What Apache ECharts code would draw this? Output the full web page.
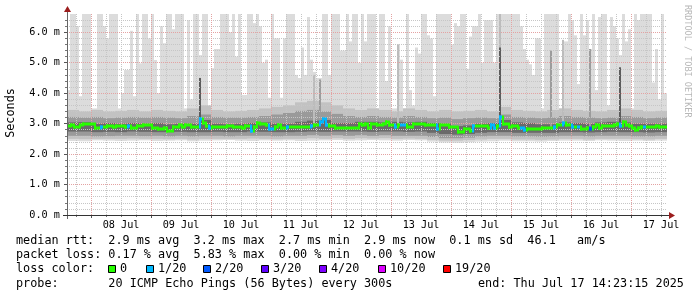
<!DOCTYPE html>
<html><head><meta charset="utf-8">
<script src="https://cdn.jsdelivr.net/npm/echarts@6/dist/echarts.min.js"></script>
<style>html,body{margin:0;padding:0;background:#fff}#c{width:697px;height:297px}</style>
</head><body><div id="c"></div>
<script>
// ---------- DATA ----------
const spanHours = 240;                 // 07 Jul 14:23:15 -> 17 Jul 14:23:15
const firstMidnight = 9.6125;          // hours from start to 08 Jul 00:00
const dayLabels = ['08 Jul','09 Jul','10 Jul','11 Jul','12 Jul','13 Jul','14 Jul','15 Jul','16 Jul','17 Jul'];
const yTickValues = [0,1,2,3,4,5,6];
const yMax = 6.6;

// max rtt of the 20 pings (ms), 200 steps
const maxRtt = [
4.1,6.6,6.6,6.2,3.9,6.6,6.6,6.6,3.5,3.5, 6.6,6.6,6.2,5.8,6.6,6.6,6.6,3.5,4.0,4.76,
4.76,6.05,3.9,6.6,4.98,6.6,6.6,5.8,6.6,5.09, 4.0,6.2,5.64,6.6,6.6,6.1,6.6,6.6,6.6,3.5,
6.4,3.8,6.6,6.6,5.25,6.6,6.6,3.5,4.82,5.45, 5.45,6.6,6.6,6.6,6.0,6.6,5.2,6.6,3.94,3.94,
6.6,6.6,6.3,6.6,6.2,5.0,5.1,3.85,6.6,5.8, 5.8,3.85,5.8,6.6,6.6,6.6,4.6,4.5,5.5,4.6,
6.5,5.1,4.7,4.5,4.5,6.6,6.6,4.6,6.6,6.6, 6.6,5.4,5.4,6.6,5.7,6.6,6.6,5.0,6.6,5.7,
6.6,6.6,6.6,3.5,6.6,6.6,4.4,6.2,3.5,3.5, 5.6,5.1,3.5,6.6,4.1,3.6,5.5,5.3,6.6,6.6,
5.9,5.8,3.9,6.6,6.6,6.6,6.6,6.6,5.6,6.3, 6.2,6.6,6.6,4.8,5.86,6.2,6.2,6.6,5.0,6.4,
6.4,6.4,5.0,6.6,6.6,6.6,6.6,6.6,6.6,6.6, 6.6,6.2,5.45,5.1,4.95,4.6,5.8,5.8,3.5,6.6,
6.6,6.6,6.6,6.6,3.5,5.7,5.7,6.6,6.4,5.9, 4.3,6.6,5.9,6.4,5.45,6.6,4.1,6.5,6.6,6.6,
3.6,6.5,6.2,5.8,5.25,6.6,5.7,6.1,3.5,6.6, 6.4,6.6,6.6,6.6,6.6,4.35,5.45,3.8,6.6,4.0
];

// median rtt (ms), 200 steps
const medianRtt = [
2.92,2.95,2.9,2.9,2.97,2.99,2.99,2.99,2.99,2.85, 2.85,2.9,2.88,2.92,2.92,2.88,2.92,2.92,2.92,2.88,
2.92,2.85,2.85,2.92,2.92,2.97,2.97,2.97,2.87,2.87, 2.82,2.82,2.87,2.77,2.77,2.88,2.88,2.97,2.88,2.94,
2.94,2.88,2.88,2.88,3.14,3.03,2.92,2.86,2.88,2.88, 2.88,2.88,2.88,2.92,2.92,2.88,2.88,2.88,2.85,2.92,
2.92,2.77,2.9,3.03,2.99,2.99,2.94,2.82,2.82,2.9, 2.97,2.86,2.86,2.88,2.9,2.9,2.9,2.88,2.88,2.88,
2.88,2.92,2.95,2.97,3.05,3.16,2.94,2.92,2.92,2.86, 2.86,2.86,2.86,2.86,2.86,2.86,2.86,3.0,2.94,3.0,
2.86,2.99,2.99,2.94,2.94,3.0,3.05,2.94,2.94,2.88, 2.94,2.97,2.97,2.9,2.9,2.99,2.99,2.99,2.99,2.94,
2.94,2.94,2.94,2.84,2.94,2.94,2.94,2.9,2.9,2.9, 2.74,2.74,2.84,2.84,2.77,2.92,2.92,2.92,2.92,2.92,
2.86,2.97,2.86,2.92,3.23,2.99,2.99,2.9,2.92,2.92, 2.86,2.86,2.8,2.84,2.84,2.84,2.84,2.84,2.86,2.86,
2.86,2.86,2.9,2.97,2.97,3.03,2.94,2.94,2.9,2.9, 2.88,2.84,2.84,2.86,2.82,2.9,2.97,2.86,2.92,2.92,
2.92,2.92,2.94,2.99,2.92,3.05,2.97,2.92,2.86,2.79, 2.86,2.9,2.9,2.9,2.9,2.9,2.92,2.9,2.9,2.9
];

// lost pings out of 20, 200 steps
const lossCount = [
0,0,0,0,0,0,0,0,0,0, 0,1,0,0,0,0,0,0,0,0,
1,0,0,0,0,0,0,0,0,0, 0,0,0,0,0,0,0,0,0,0,
0,0,0,0,1,0,0,1,0,0, 0,0,0,0,0,0,0,0,0,0,
0,1,0,0,0,0,0,1,1,0, 0,0,0,1,0,0,0,0,0,0,
0,1,0,0,1,1,1,0,0,0, 0,0,0,0,0,0,0,0,0,0,
0,0,0,0,0,0,0,0,0,1, 0,1,1,0,0,0,0,0,0,0,
0,0,0,1,0,0,0,0,0,0, 0,0,0,0,0,1,0,0,0,0,
0,1,1,0,1,0,0,0,0,0, 0,1,1,0,0,0,0,0,0,0,
0,0,1,0,0,1,0,0,1,0, 1,0,0,0,2,0,0,0,0,0,
0,0,0,0,1,0,0,0,0,0, 0,0,1,0,0,0,0,0,0,0
];

// smoke percentile edges (ms), 50 steps
const minRtt = [2.43,2.42,2.45,2.44,2.43,2.44,2.45,2.43,2.44,2.45,2.42,2.44,2.45,2.46,2.44,2.43,2.45,2.44,2.45,2.43,2.44,2.45,2.46,2.44,2.45,2.46,2.45,2.44,2.46,2.45,2.41,2.38,2.37,2.39,2.41,2.42,2.44,2.42,2.42,2.41,2.43,2.44,2.44,2.43,2.45,2.44,2.43,2.44,2.43,2.44];
const lowBandLo = [2.5,2.49,2.5,2.5,2.5,2.51,2.5,2.5,2.49,2.5,2.48,2.5,2.5,2.5,2.5,2.51,2.5,2.49,2.5,2.5,2.52,2.5,2.52,2.5,2.52,2.51,2.52,2.5,2.51,2.5,2.47,2.44,2.44,2.46,2.48,2.5,2.5,2.48,2.48,2.47,2.48,2.5,2.5,2.48,2.5,2.5,2.5,2.49,2.48,2.5];
const lowBandHi = [3.45,3.4,3.45,3.4,3.42,3.45,3.4,3.45,3.42,3.4,3.5,3.6,3.45,3.4,3.42,3.45,3.5,3.55,3.6,3.7,3.75,3.7,3.6,3.5,3.45,3.5,3.45,3.4,3.5,3.45,3.4,3.45,3.4,3.42,3.45,3.4,3.55,3.45,3.42,3.4,3.45,3.5,3.45,3.42,3.4,3.45,3.5,3.45,3.4,3.42];
const midBandLo = [2.6,2.6,2.58,2.59,2.6,2.6,2.59,2.6,2.58,2.6,2.58,2.6,2.6,2.58,2.6,2.6,2.6,2.58,2.6,2.6,2.62,2.6,2.62,2.6,2.62,2.6,2.62,2.6,2.6,2.6,2.56,2.52,2.52,2.54,2.58,2.6,2.6,2.58,2.58,2.57,2.58,2.6,2.6,2.58,2.6,2.6,2.6,2.58,2.58,2.6];
const midBandHi = [3.22,3.2,3.22,3.18,3.2,3.22,3.2,3.22,3.2,3.18,3.25,3.3,3.22,3.2,3.2,3.22,3.25,3.3,3.35,3.42,3.45,3.4,3.32,3.25,3.22,3.25,3.22,3.2,3.25,3.22,3.18,3.2,3.15,3.18,3.2,3.18,3.3,3.22,3.2,3.18,3.2,3.25,3.22,3.2,3.18,3.2,3.25,3.22,3.18,3.2];
const coreBandLo = [2.74,2.74,2.72,2.73,2.72,2.74,2.73,2.72,2.72,2.73,2.72,2.72,2.73,2.72,2.72,2.74,2.73,2.72,2.72,2.73,2.74,2.73,2.74,2.74,2.74,2.73,2.74,2.74,2.73,2.74,2.7,2.66,2.64,2.66,2.7,2.72,2.72,2.7,2.7,2.7,2.7,2.72,2.72,2.71,2.72,2.73,2.72,2.72,2.71,2.72];
const coreBandHi = [3.04,3.05,3.0,3.02,3.0,3.02,3.0,3.02,2.98,3.0,3.0,3.12,3.0,2.98,3.0,3.02,3.04,3.0,3.0,3.06,3.1,3.12,3.02,3.02,3.06,3.06,3.04,3.06,3.04,3.06,3.02,3.0,2.92,2.94,3.0,3.02,3.12,3.04,3.02,2.98,2.98,3.04,3.02,3.0,3.04,3.06,3.04,3.0,3.0,3.0];

// single-step outliers (step index, top value ms, ping rank 1=near median .. 3=far)
const spikeStep = [44, 82, 84, 110, 144, 144, 161, 165, 174, 184];
const spikeTop  = [4.5, 4.6, 4.45, 5.6, 6.6, 5.5, 5.4, 5.75, 5.45, 4.85];
const spikeRank = [1, 3, 2, 3, 3, 1, 2, 3, 2, 1];

const lossLabels = ['0','1/20','2/20','3/20','4/20','10/20','19/20'];
const lossLevels = [0,1,2,3,4,10,19];
const statLine1 = 'median rtt:  2.9 ms avg  3.2 ms max  2.7 ms min  2.9 ms now  0.1 ms sd  46.1   am/s';
const statLine2 = 'packet loss: 0.17 % avg  5.83 % max  0.00 % min  0.00 % now';
const statLine3 = 'loss color:';
const statLine4 = 'probe:       20 ICMP Echo Pings (56 Bytes) every 300s';
const endLine = 'end: Thu Jul 17 14:23:15 2025';
const yAxisTitle = 'Seconds';
const watermark = 'RRDTOOL / TOBI OETIKER';

// ---------- STYLE ----------
const lossColors = ['#26ff00','#00b8ff','#0059ff','#5e00ff','#7e00ff','#dd00ff','#ff0000'];
const spikeColors = {1:'#5c5c5c', 2:'#9c9c9c', 3:'#bcbcbc'};
const MONO = '"DejaVu Sans Mono", monospace';
const LEG_FONT = '11.8px ' + MONO;
function lossColor(n){ let c = lossColors[0]; for (let i=0;i<lossLevels.length;i++){ if (n>=lossLevels[i]) c = lossColors[i]; } return c; }

const stepH = spanHours / medianRtt.length;
const blockH = spanHours / minRtt.length;

function bandData(lo, hi, h){ return lo.map((v,i)=>[i*h,(i+1)*h,v,hi[i]]); }
function bandSeries(data, color, z){
  return {type:'custom', xAxisIndex:0, yAxisIndex:0, z:z, clip:true, silent:true,
    data:data,
    renderItem:function(params, api){
      const p = api.coord([api.value(0), api.value(3)]);
      const q = api.coord([api.value(1), api.value(2)]);
      return {type:'rect', shape:{x:p[0], y:p[1], width:q[0]-p[0], height:q[1]-p[1]}, style:{fill:color}};
    }};
}

const envelope = bandData(minRtt.flatMap(v=>[v,v,v,v]), maxRtt, stepH);
const spikeData = spikeStep.map((s,i)=>[s*stepH, (s+1)*stepH, medianRtt[s], spikeTop[i], spikeRank[i]]);
const medData = medianRtt.map((v,i)=>[i*stepH,(i+1)*stepH,v, i>0?medianRtt[i-1]:v, lossCount[i]]);

const midnights=[], noons=[], minorX=[];
for (let t=firstMidnight; t<spanHours; t+=24){ midnights.push(t); if (t+12<spanHours) noons.push(t+12); }
for (let t=firstMidnight-6; t<spanHours; t+=6){ if (Math.abs(((t-firstMidnight)%24+24)%24)>1e-6) minorX.push(t); }
const minorY=[]; for (let i=1;i<33;i++){ if (i%5!==0) minorY.push(+(i*0.2).toFixed(1)); }

const major = {color:'#e4a2a2', width:1, type:[1,1]};
const minor = {color:'#c6c6c6', width:1, type:[1,1]};

const chart = echarts.init(document.getElementById('c'), null, {renderer:'canvas'});
const graphics = [];
// axis lines and arrows
graphics.push({type:'line', z:50, shape:{x1:67.5,y1:219,x2:67.5,y2:11}, style:{stroke:'#666',lineWidth:1}});
graphics.push({type:'line', z:50, shape:{x1:63,y1:215.5,x2:670,y2:215.5}, style:{stroke:'#333',lineWidth:1}});
graphics.push({type:'polygon', z:51, shape:{points:[[67.5,6],[64,12],[71,12]]}, style:{fill:'#9b1d1d'}});
graphics.push({type:'polygon', z:51, shape:{points:[[675,215.5],[669,212],[669,219]]}, style:{fill:'#9b1d1d'}});
// texts
graphics.push({type:'text', x:11, y:113, rotation:Math.PI/2, style:{text:yAxisTitle, font:LEG_FONT, fill:'#000', align:'center', verticalAlign:'middle'}});
graphics.push({type:'text', x:687, y:5, rotation:-Math.PI/2, style:{text:watermark, font:'8.5px '+MONO, fill:'#b8b8b8', align:'left', verticalAlign:'middle'}});
[statLine1, statLine2, statLine3, statLine4].forEach((s,i)=>{
  graphics.push({type:'text', x:16, y:241+i*14.2, style:{text:s, font:LEG_FONT, fill:'#000', verticalAlign:'middle'}});
});
graphics.push({type:'text', x:478, y:241+3*14.2, style:{text:endLine, font:LEG_FONT, fill:'#000', verticalAlign:'middle'}});
const sqX = [108,146,203,261,319,378,443];
lossLabels.forEach((lab,i)=>{
  graphics.push({type:'rect', shape:{x:sqX[i]+0.5, y:265.5, width:7, height:7}, style:{fill:lossColors[i], stroke:'#000', lineWidth:1}});
  graphics.push({type:'text', x:sqX[i]+12, y:269.4, style:{text:lab, font:LEG_FONT, fill:'#000', verticalAlign:'middle'}});
});

chart.setOption({
  animation:false,
  backgroundColor:'#fff',
  grid:{left:67, top:14, width:600, height:201},
  xAxis:[
    {type:'value', min:0, max:spanHours, position:'bottom', z:5,
     axisLine:{show:false},
     axisTick:{show:true, customValues:midnights, length:3, lineStyle:{color:'#555'}},
     axisLabel:{show:true, customValues:noons, margin:5, fontFamily:MONO, fontSize:10.2, color:'#000',
       formatter:v=>dayLabels[Math.round((v-firstMidnight-12)/24)]},
     splitLine:{show:true, lineStyle:major}},
    {type:'value', min:0, max:spanHours, position:'bottom', z:4,
     axisLine:{show:false}, axisLabel:{show:false},
     axisTick:{show:true, customValues:minorX, length:2, lineStyle:{color:'#777'}},
     splitLine:{show:true, lineStyle:minor}}
  ],
  yAxis:[
    {type:'value', min:0, max:yMax, position:'left', z:5,
     axisLine:{show:false},
     axisTick:{show:true, customValues:yTickValues, length:3, lineStyle:{color:'#555'}},
     axisLabel:{show:true, customValues:yTickValues, margin:7, fontFamily:MONO, fontSize:10.2, color:'#000',
       formatter:v=>v.toFixed(1)+' m'},
     splitLine:{show:true, lineStyle:major}},
    {type:'value', min:0, max:yMax, position:'left', z:4,
     axisLine:{show:false}, axisLabel:{show:false},
     axisTick:{show:true, customValues:minorY, length:2, lineStyle:{color:'#777'}},
     splitLine:{show:true, lineStyle:minor}}
  ],
  series:[
    bandSeries(envelope, '#dcdcdc', 1),
    bandSeries(bandData(lowBandLo, lowBandHi, blockH), '#c2c2c2', 1),
    bandSeries(bandData(midBandLo, midBandHi, blockH), '#9a9a9a', 1),
    bandSeries(bandData(coreBandLo, coreBandHi, blockH), '#6a6a6a', 1),
    {type:'custom', xAxisIndex:0, yAxisIndex:0, z:1, clip:true, silent:true, data:spikeData,
     renderItem:function(params, api){
       const p = api.coord([api.value(0), api.value(3)]);
       const q = api.coord([api.value(1), api.value(2)]);
       return {type:'rect', shape:{x:p[0], y:p[1], width:(q[0]-p[0])*0.67, height:q[1]-p[1]}, style:{fill:spikeColors[api.value(4)]}};
     }},
    {type:'custom', xAxisIndex:0, yAxisIndex:0, z:10, clip:true, silent:true, data:medData,
     renderItem:function(params, api){
       const p = api.coord([api.value(0), api.value(2)]);
       const q = api.coord([api.value(1), api.value(2)]);
       const pp = api.coord([api.value(0), api.value(3)]);
       const col = lossColor(api.value(4));
       const y = Math.round(p[1]);
       const yp = Math.round(pp[1]);
       const children = [{type:'rect', shape:{x:p[0], y:y-1.5, width:q[0]-p[0], height:3}, style:{fill:col}}];
       if (yp !== y) children.push({type:'rect', shape:{x:p[0], y:Math.min(y,yp)-1.5, width:2, height:Math.abs(y-yp)+3}, style:{fill:col}});
       return {type:'group', children:children};
     }}
  ],
  graphic:graphics
});
</script>
</body></html>
